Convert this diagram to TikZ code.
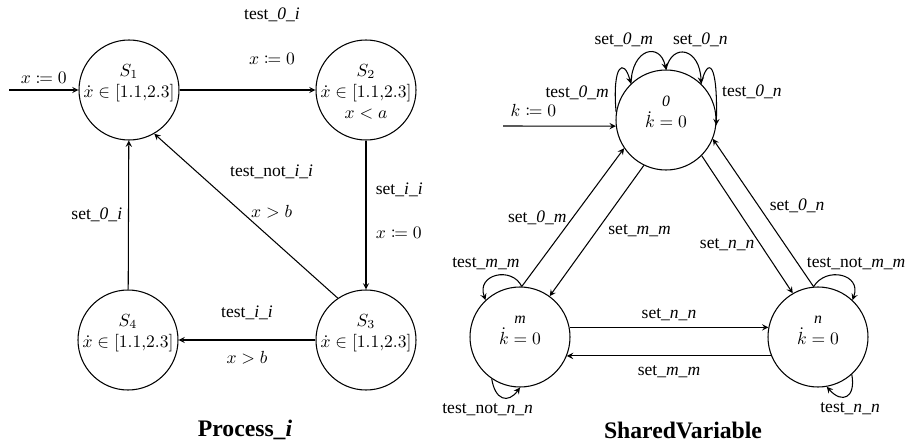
\documentclass[tikz,border=0pt]{standalone}
\usepackage{mathtools}
\usepackage{fontspec}
\setmainfont{Liberation Serif}
\usetikzlibrary{arrows.meta}
\tikzset{>=stealth}

\newcommand{\act}[3]{#1\_\textit{#2}\_\textit{#3}}
\newcommand{\rate}{$\dot{x}\in[1.1{,}2.3]$}

\begin{document}
\begin{tikzpicture}[x=0.57pt,y=-0.57pt,line width=0.6pt,
    state/.style={circle,draw,minimum size=57pt,inner sep=0pt},
    title/.style={font=\fontsize{13.5}{16}\selectfont\bfseries}]
	\useasboundingbox (0,0) rectangle (911,447);
	% Process_i
	\node[state,label={[align=center,yshift=4pt]center:{$S_1$\\\rate}}] (s1) at (129,90) {};
	\node[state,label={[align=center,yshift=-1pt]center:{$S_2$\\\rate\\$x<a$}}] (s2) at (366,90) {};
	\node[state,label={[align=center,yshift=4pt]center:{$S_3$\\\rate}}] (s3) at (366,340) {};
	\node[state,label={[align=center,yshift=4pt]center:{$S_4$\\\rate}}] (s4) at (128,340) {};
	\coordinate (in1) at (9,90);
	\draw [->] (in1) -- (s1) node[midway,above]{$x\coloneqq 0$};
	\draw [->] (s1) -- (s2) node[pos=0.68,above=11pt]{$x\coloneqq 0$} node[pos=0.68,above=35pt]{\act{test}{0}{i}};
	\draw [->] (s2) -- (s3) node[pos=0.33,right,xshift=2pt]{\act{set}{i}{i}} node[pos=0.62,right,xshift=2pt]{$x\coloneqq 0$};
	\draw [->] (s3.124) -- (s1.300) node[pos=0.48,xshift=12.5pt,yshift=27pt]{\act{test\_not}{i}{i}} node[pos=0.48,xshift=12.5pt,yshift=4pt]{$x>b$};
	\draw [->] (s4) -- (s1) node[midway,left]{\act{set}{0}{i}};
	\draw [->] (s3) -- (s4) node[midway,above=8pt]{\act{test}{i}{i}} node[midway,below=3pt]{$x>b$};
	\node[title] (t1) at (245,430) {Process\_\textit{i}};
	% SharedVariable
	\node[state,label={[align=center,yshift=4.5pt]center:{{\small\textit{0}}\\$\dot{k}=0$}}] (n0) at (666,120) {};
	\node[state,label={[align=center,yshift=4pt]center:{{\small\textit{m}}\\$\dot{k}=0$}}] (nm) at (520,337) {};
	\node[state,label={[align=center,yshift=4pt]center:{{\small\textit{n}}\\$\dot{k}=0$}}] (nn) at (818,337) {};
	\coordinate (in2) at (503,126);
	\draw [->] (in2) -- (n0.187) node[pos=0.27,above=2pt]{$k\coloneqq 0$};
	\draw [->] (n0.171) .. controls (612,64) and (624,58) .. (n0.134) node[pos=0.15,left]{\act{test}{0}{m}};
	\draw [->] (n0.134) .. controls (632,48) and (660,42) .. (n0.90) node[pos=0.5,above,xshift=-13pt]{\act{set}{0}{m}};
	\draw [->] (n0.90) .. controls (672,42) and (700,48) .. (n0.46) node[pos=0.5,above,xshift=8.5pt]{\act{set}{0}{n}};
	\draw [->] (n0.46) .. controls (708,56) and (718,62) .. (n0.354) node[pos=0.78,right]{\act{test}{0}{n}};
	\draw [->] (nm.88) -- (n0.214) node[midway,left]{\act{set}{0}{m}};
	\draw [->] (n0.244) -- (nm.54) node[midway,right,xshift=3pt]{\act{set}{m}{m}};
	\draw [->] (n0.315) -- (nn.120) node[pos=0.65,left]{\act{set}{n}{n}};
	\draw [->] (nn.95) -- (n0.338) node[pos=0.55,right,xshift=3pt]{\act{set}{0}{n}};
	\draw [->] (nm.11) -- (nn.169) node[midway,above]{\act{set}{n}{n}};
	\draw [->] (nn.202) -- (nm.338) node[midway,below=2pt]{\act{set}{m}{m}};
	\draw [->] (nm.88) .. controls (512,266) and (476,274) .. (nm.133) node[pos=0.5,above,xshift=-6pt]{\act{test}{m}{m}};
	\draw [->] (nm.236) .. controls (495,400) and (508,404) .. (nm.270) node[pos=0.5,below,xshift=-8.5pt]{\act{test\_not}{n}{n}};
	\draw [->] (nn.95) .. controls (826,266) and (862,274) .. (nn.47) node[pos=0.5,above,xshift=8.5pt]{\act{test\_not}{m}{m}};
	\draw [->] (nn.312) .. controls (856,398) and (842,404) .. (nn.280) node[pos=0.5,below,xshift=2pt]{\act{test}{n}{n}};
	\node[title] (t2) at (683,430) {SharedVariable};
\end{tikzpicture}
\end{document}
